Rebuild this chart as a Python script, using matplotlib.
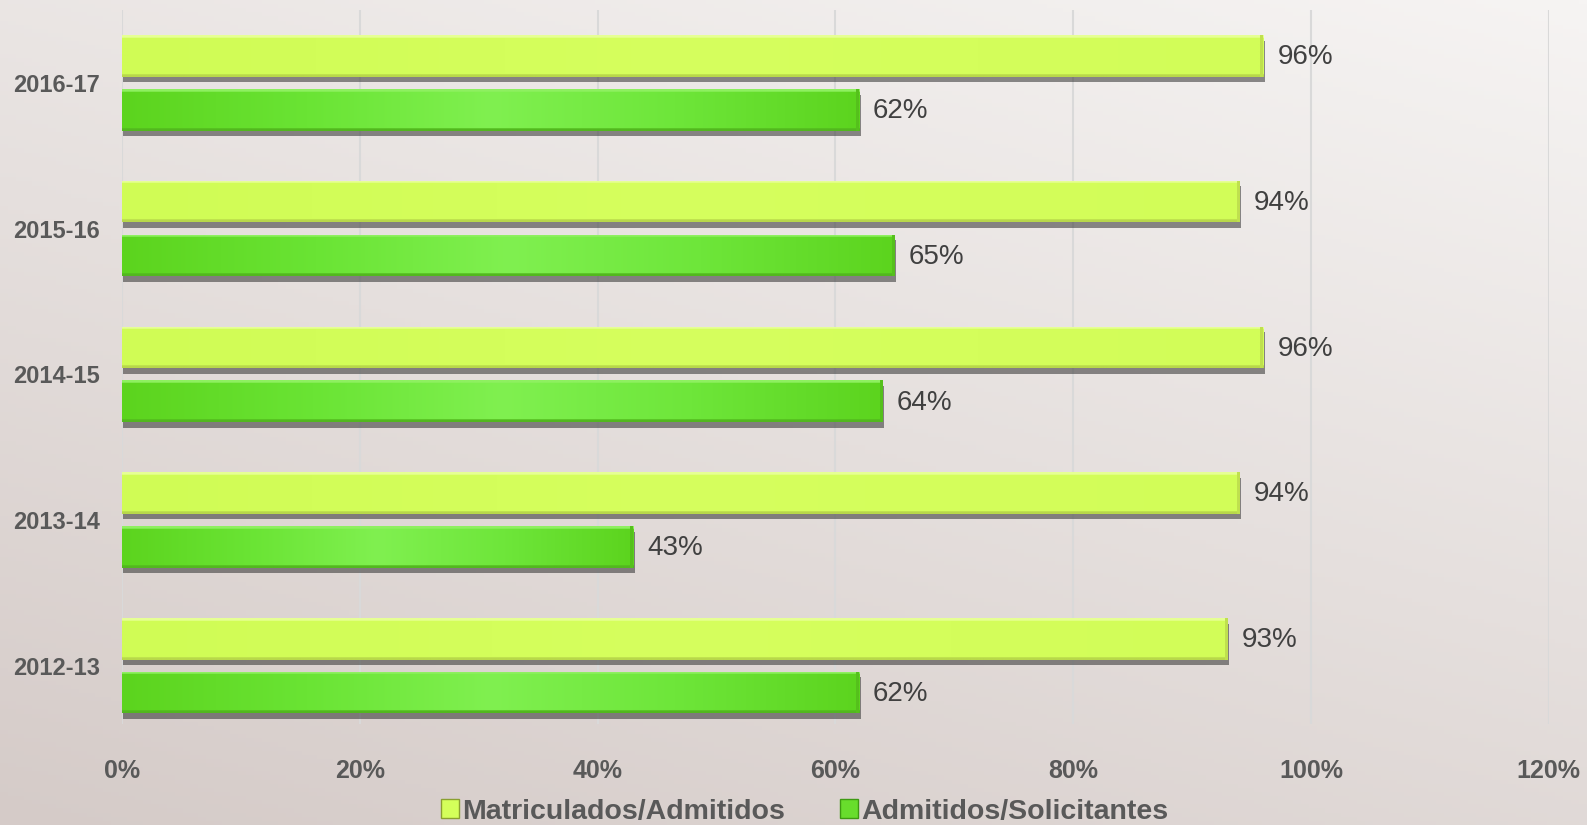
import numpy as np
import matplotlib
matplotlib.use("Agg")
import matplotlib.pyplot as plt
from matplotlib import patheffects
from matplotlib.colors import LinearSegmentedColormap, to_rgb
from matplotlib.ticker import PercentFormatter
from matplotlib.patches import Rectangle

plt.rcParams["font.family"] = ["Liberation Sans", "DejaVu Sans"]

# data
years = ["2012-13", "2013-14", "2014-15", "2015-16", "2016-17"]
matriculados = [93, 94, 96, 94, 96]   # Matriculados/Admitidos
admitidos = [62, 43, 64, 65, 62]      # Admitidos/Solicitantes
x_ticks = [0, 20, 40, 60, 80, 100, 120]

YELLOW = "#d4ff5a"
GREEN = "#68dd2c"
TXT = "#595959"

fig = plt.figure(figsize=(15.87, 8.25), dpi=100)

# background: light top-right, darker bottom-left
bg = fig.add_axes([0, 0, 1, 1], zorder=-10)
gy, gx = np.mgrid[0:1:200j, 0:1:200j]
t = np.clip(0.65 * gy + 0.35 * (1 - gx), 0, 1)
c_top = np.array(to_rgb("#f6f4f3"))
c_bot = np.array(to_rgb("#d5cbc8"))
img = c_top[None, None, :] * (1 - t[..., None]) + c_bot[None, None, :] * t[..., None]
bg.imshow(img, aspect="auto", extent=(0, 1, 0, 1), origin="upper")
bg.axis("off")

ax = fig.add_axes([0.0769, 0.1224, 0.899, 0.8655])
ax.patch.set_alpha(0)

y = np.arange(len(years))
h = 0.285
off = 0.185
shadow = [patheffects.SimplePatchShadow(offset=(1, -4), shadow_rgbFace="#303030", alpha=0.55),
          patheffects.Normal()]
b1 = ax.barh(y + off, matriculados, height=h, color=YELLOW, zorder=3,
             label="Matriculados/Admitidos")
b2 = ax.barh(y - off, admitidos, height=h, color=GREEN, zorder=3,
             label="Admitidos/Solicitantes")
for p in list(b1) + list(b2):
    p.set_path_effects(shadow)

xlim = (0, 120)
ylim = (-0.4, 4.5)


def gradient_fill(bars, stops, top_col, bot_col, edge_col):
    cmap = LinearSegmentedColormap.from_list("g", stops)
    for p in bars:
        x0, y0 = p.get_x(), p.get_y()
        w, hh = p.get_width(), p.get_height()
        n = 300
        row = cmap(np.linspace(0, 1, n))[:, :3]
        im = np.repeat(row[None, :, :], 30, axis=0)
        im[0:2] = to_rgb(top_col)
        im[-2:] = to_rgb(bot_col)
        ai = ax.imshow(im, extent=(x0, x0 + w, y0, y0 + hh), origin="upper",
                       aspect="auto", zorder=4, interpolation="bilinear")
        ai.set_clip_path(p)
        # right bevel edge
        ax.add_patch(Rectangle((x0 + w - 0.25, y0), 0.25, hh, color=edge_col, zorder=5, lw=0))


gradient_fill(b1, ["#d0fc55", "#d6ff5e", "#d2fd58"], "#e6ff94", "#b8d84a", "#bfe04e")
gradient_fill(b2, ["#5cd41e", "#6ae434", "#80f050", "#6ee63a", "#5cd41e"],
              "#8ef060", "#52b81e", "#55c01c")

ax.set_xlim(*xlim)
ax.set_ylim(*ylim)

for bars, vals in ((b1, matriculados), (b2, admitidos)):
    for p, v in zip(bars, vals):
        ax.annotate(f"{v}%", (p.get_width(), p.get_y() + p.get_height() / 2),
                    xytext=(10, -1), textcoords="offset points", va="center",
                    ha="left", fontsize=20, color="#404040", zorder=6)

ax.set_xticks(x_ticks)
ax.xaxis.set_major_formatter(PercentFormatter(decimals=0))
ax.set_yticks(y)
ax.set_yticklabels(years)
ax.grid(axis="x", color="#d9d9d9", lw=1.5, zorder=0)
for s in ax.spines.values():
    s.set_visible(False)
ax.tick_params(axis="both", length=0)
ax.tick_params(axis="x", pad=25, labelsize=18, labelcolor=TXT)
ax.tick_params(axis="y", pad=16, labelsize=17, labelcolor=TXT)
for lab in ax.get_xticklabels() + ax.get_yticklabels():
    lab.set_fontweight("bold")

leg = fig.legend(handles=[b1, b2], loc="center", bbox_to_anchor=(0.507, 0.016),
                 ncol=2, frameon=False, fontsize=20.5, handlelength=0.65,
                 handleheight=0.65, handletextpad=0.12, columnspacing=1.9)
for txt in leg.get_texts():
    txt.set_color(TXT)
    txt.set_fontweight("bold")
for hd in leg.legend_handles:
    hd.set_path_effects([])
    hd.set_edgecolor("#8aa030")
leg.legend_handles[1].set_edgecolor("#3e9a12")

fig.savefig("out.png", dpi=100)
